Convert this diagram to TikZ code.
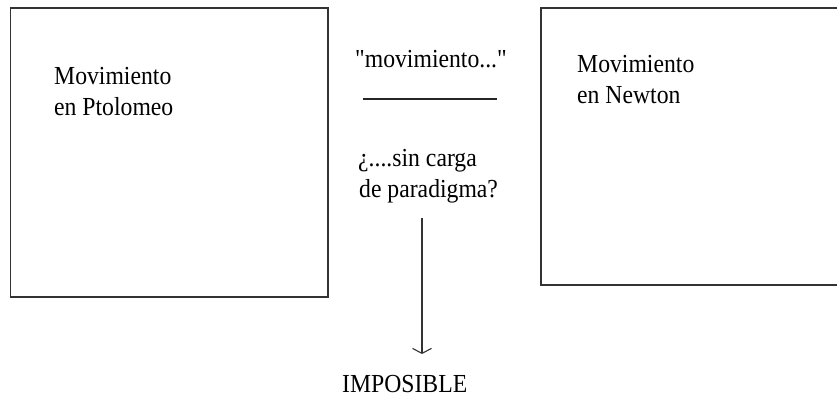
\documentclass[tikz,border=0pt]{standalone}
\usepackage{fontspec}
\usepackage{graphicx}
\newfontfamily\plainserif{Liberation Serif}
\usetikzlibrary{arrows.meta}
\newcommand{\tallt}[1]{\scalebox{1.03}[1.13]{#1}}
\begin{document}
\begin{tikzpicture}[x=1pt,y=-1pt,
  frame/.style={draw=black!80,line width=1.4pt},
  label/.style={anchor=base west,inner sep=0pt,font=\plainserif\fontsize{23}{28}\selectfont},
  rule/.style={draw=black!85,line width=1.1pt},
  arrowline/.style={draw=black!80,line width=1.1pt,-{Straight Barb[length=5pt,width=19pt,line width=1.1pt]}}]
\useasboundingbox (0,0) rectangle (837,396);
% left box
\coordinate (lbTL) at (10.5,8);
\coordinate (lbBR) at (328,297);
\draw[frame] (lbTL) rectangle (lbBR);
\node[label] (ptoA) at (54,84) {\tallt{Movimiento}};
\node[label] (ptoB) at (54,115) {\tallt{en Ptolomeo}};
% right box (runs past the right edge)
\coordinate (rbTR) at (840,8);
\coordinate (rbBL) at (541,285);
\coordinate (rbBR) at (840,285);
\draw[frame] (rbTR) -| (rbBL) -- (rbBR);
\node[label] (newA) at (577,73) {\tallt{Movimiento}};
\node[label] (newB) at (577,103) {\tallt{en Newton}};
% middle
\node[label] (mov) at (355,67) {\tallt{"movimiento..."}};
\coordinate (ruleL) at (363,99);
\coordinate (ruleR) at (497,99);
\draw[rule] (ruleL) -- (ruleR);
\node[label] (sinA) at (358,166) {\tallt{¿....sin carga}};
\node[label] (sinB) at (359,197) {\tallt{de paradigma?}};
\coordinate (arrS) at (422,218);
\coordinate (arrE) at (422,354);
\draw[arrowline] (arrS) -- (arrE);
\node[label] (imp) at (342,392) {\tallt{IMPOSIBLE}};
\end{tikzpicture}
\end{document}
